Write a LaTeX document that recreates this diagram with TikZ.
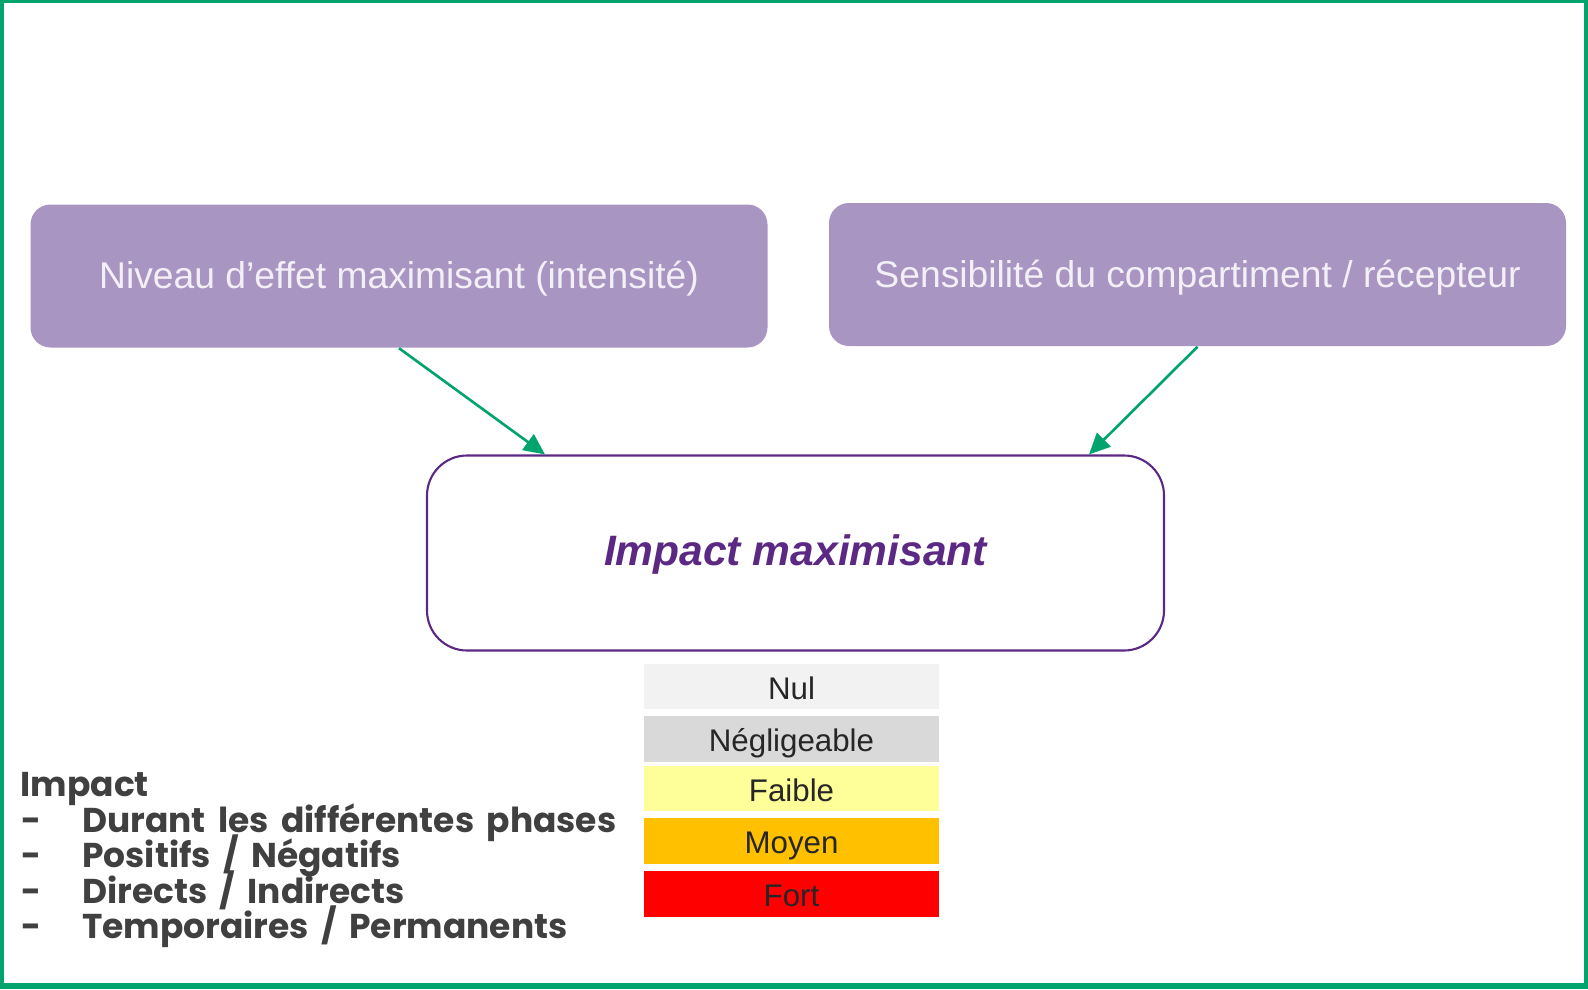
\documentclass[tikz,border=0pt]{standalone}
\usepackage{fontspec}
\setmainfont{Liberation Sans}
\newfontfamily\listefont[WordSpace=1.7]{Poppins}
\usetikzlibrary{arrows.meta}

\definecolor{vertcadre}{RGB}{0,164,108}
\definecolor{mauve}{RGB}{169,149,194}
\definecolor{mauveclair}{RGB}{243,239,247}
\definecolor{violet}{RGB}{91,40,131}
\definecolor{gristexte}{RGB}{64,64,64}
\definecolor{nul}{RGB}{242,242,242}
\definecolor{negligeable}{RGB}{217,217,217}
\definecolor{faible}{RGB}{255,255,153}
\definecolor{moyen}{RGB}{255,192,0}
\definecolor{fort}{RGB}{255,0,0}

\begin{document}
\begin{tikzpicture}[
    critere/.style={fill=mauve, rounded corners=0.2cm, minimum width=7.37cm, minimum height=1.43cm,
        inner sep=0pt, text height=0.72em, text depth=0pt, text=mauveclair,
        font=\fontsize{10.6pt}{12pt}\selectfont},
    resultat/.style={draw=violet, line width=0.6pt, fill=white, rounded corners=0.4cm,
        minimum width=7.37cm, minimum height=1.95cm, inner sep=0pt, text height=0.72em,
        text depth=0pt, text=violet, font=\fontsize{12.1pt}{14pt}\selectfont\bfseries\itshape},
    niveau/.style={minimum width=2.95cm, minimum height=0.455cm, inner sep=0pt,
        text height=0.72em, text depth=0pt,
        text={rgb,255:red,38;green,38;blue,38}, font=\fontsize{8.9pt}{10pt}\selectfont},
    liste/.style={anchor=base west, inner sep=0pt, text=gristexte,
        font=\listefont\bfseries\fontsize{9.8pt}{12pt}\selectfont},
    fleche/.style={vertcadre, line width=0.75pt, -{Triangle[length=6pt,width=5.5pt]}}
]
    \useasboundingbox (0,0) rectangle (15.88,9.89);
    \draw[vertcadre, line width=1pt] (0.02,0.04) rectangle (15.86,9.875);
    \draw[vertcadre, line width=1.4pt] (0,0.025) -- (15.88,0.025);

    % les deux criteres
    \node[critere] (effet) at (3.99,7.13) {Niveau d’effet maximisant (intensité)};
    \node[critere] (sensibilite) at (11.975,7.145) {Sensibilité du compartiment / récepteur};

    \node[resultat] (impact) at (7.955,4.36) {Impact maximisant};

    \draw[fleche] (effet.south) -- ([xshift=-2.505cm]impact.north);
    \draw[fleche] (sensibilite.south) -- ([xshift=2.935cm]impact.north);

    % echelle des niveaux
    \node[niveau, fill=nul] (nul) at (7.915,3.023) {Nul};
    \node[niveau, fill=negligeable] (negl) at (7.915,2.502) {Négligeable};
    \node[niveau, fill=faible] (faible) at (7.915,2.006) {Faible};
    \node[niveau, fill=moyen] (moyen) at (7.915,1.479) {Moyen};
    \node[niveau, fill=fort] (fort) at (7.915,0.952) {Fort};

    % types d'impact
    \node[liste] (titre) at (0.20,1.93) {Impact};
    \node[liste] (tiret1) at (0.21,1.57) {-};
    \node[liste] (phases) at (0.815,1.57) {Durant les différentes phases};
    \node[liste] (tiret2) at (0.21,1.22) {-};
    \node[liste] (signe) at (0.815,1.22) {Positifs / Négatifs};
    \node[liste] (tiret3) at (0.21,0.86) {-};
    \node[liste] (directs) at (0.815,0.86) {Directs / Indirects};
    \node[liste] (tiret4) at (0.21,0.51) {-};
    \node[liste] (duree) at (0.815,0.51) {Temporaires / Permanents};
\end{tikzpicture}
\end{document}
